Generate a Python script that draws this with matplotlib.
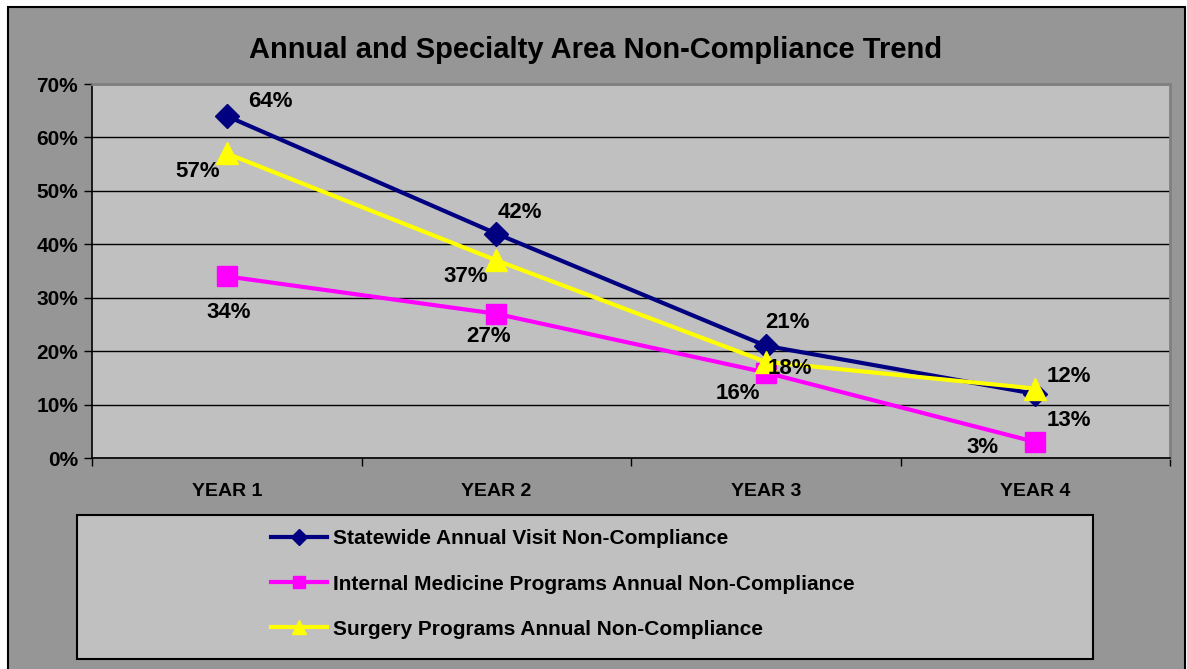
import numpy as np
import matplotlib
matplotlib.use("Agg")
import matplotlib.pyplot as plt
import matplotlib.patches as ptc

years = ['YEAR 1', 'YEAR 2', 'YEAR 3', 'YEAR 4']
statewide = [64, 42, 21, 12]
internal = [34, 27, 16, 3]
surgery = [57, 37, 18, 13]
series_names = ['Statewide Annual Visit Non-Compliance',
                'Internal Medicine Programs Annual Non-Compliance',
                'Surgery Programs Annual Non-Compliance']
y_ticks = [0, 10, 20, 30, 40, 50, 60, 70]

W, H = 1187, 669
plt.rcParams['font.family'] = ['Liberation Sans', 'DejaVu Sans']
plt.rcParams['font.weight'] = 'bold'

fig = plt.figure(figsize=(W / 100, H / 100), dpi=100, facecolor='white')


def fx(px):
    return px / W


def fy(py):
    return 1 - py / H


# outer chart area
fig.patches.append(ptc.Rectangle((fx(8), fy(680)), fx(1185) - fx(8), fy(7) - fy(680),
                                 transform=fig.transFigure, facecolor='#969696',
                                 edgecolor='black', linewidth=1.5, zorder=-2))

ax = fig.add_axes([fx(92), fy(458), fx(1170) - fx(92), fy(84) - fy(458)])
ax.set_facecolor('#c0c0c0')
ax.set_zorder(1)

x = np.arange(len(years))
ax.plot(x, statewide, color='#000080', lw=3, marker='D', ms=12, zorder=3)
ax.plot(x, internal, color='#ff00ff', lw=3, marker='s', ms=15, zorder=3)
ax.plot(x, surgery, color='#ffff00', lw=3, marker='^', ms=16, zorder=4)

# data labels, offsets in pixels
offs_state = [(44, 15), (24, 21), (22, 23), (34, 17)]
offs_int = [(2, -36), (-8, -23), (-28, -21), (-53, -6)]
offs_surg = [(-29, -18), (-31, -16), (24, -7), (34, -32)]
for vals, offs in ((statewide, offs_state), (internal, offs_int), (surgery, offs_surg)):
    for i, v in enumerate(vals):
        ax.annotate('%d%%' % v, (x[i], v), xytext=offs[i], textcoords='offset pixels',
                    ha='center', va='center', fontsize=16, fontweight='bold', zorder=5)

ax.set_xlim(-0.5, len(years) - 0.5)
ax.set_ylim(0, 70)
ax.set_yticks(y_ticks)
ax.set_yticklabels(['%d%%' % t for t in y_ticks])
ax.yaxis.grid(True, color='black', lw=1)
ax.set_axisbelow(True)
ax.set_xticks(x)
ax.set_xticklabels(years)
ax.set_xticks(np.arange(len(years) + 1) - 0.5, minor=True)
ax.tick_params(axis='x', which='major', length=0, pad=18, labelsize=14)
ax.tick_params(axis='x', which='minor', length=6, width=1, direction='out')
ax.tick_params(axis='y', length=6, width=1, labelsize=15, pad=4)
for lbl in ax.get_xticklabels() + ax.get_yticklabels():
    lbl.set_fontweight('bold')
ax.spines['top'].set_color('#808080')
ax.spines['right'].set_color('#808080')
ax.spines['top'].set_linewidth(2)
ax.spines['right'].set_linewidth(2)
ax.spines['left'].set_linewidth(1.2)
ax.spines['bottom'].set_linewidth(1.2)

fig.text(fx(596), fy(50), 'Annual and Specialty Area Non-Compliance Trend',
         ha='center', va='center', fontsize=21, fontweight='bold')

# legend box
lx0, ly0, lx1, ly1 = 77, 515, 1093, 659
fig.patches.append(ptc.Rectangle((fx(lx0), fy(ly1)), fx(lx1) - fx(lx0), fy(ly0) - fy(ly1),
                                 transform=fig.transFigure, facecolor='#c0c0c0',
                                 edgecolor='black', linewidth=1.5, zorder=-1))
handles = [
    plt.Line2D([], [], color='#000080', lw=3, marker='D', ms=8),
    plt.Line2D([], [], color='#ff00ff', lw=3, marker='s', ms=9),
    plt.Line2D([], [], color='#ffff00', lw=3, marker='^', ms=10),
]
leg = fig.legend(handles, series_names, loc='center left',
                 bbox_to_anchor=(fx(252), fy(584)),
                 frameon=False, prop={'size': 15, 'weight': 'bold'},
                 handlelength=2.7, handletextpad=0.3, labelspacing=1.25)
leg.set_zorder(2)

fig.savefig('out.png', dpi=100, facecolor='white')
